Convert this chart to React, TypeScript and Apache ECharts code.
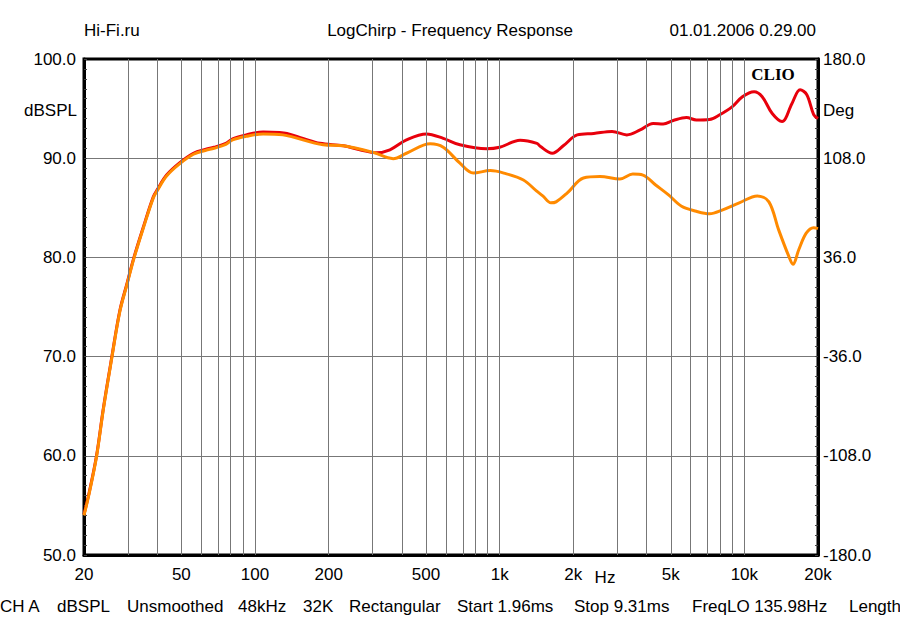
import React, { useEffect, useRef } from 'react';
import * as echarts from 'echarts';

// tick labels on the frequency axis
const xTickFreqs = [20, 50, 100, 200, 500, 1000, 2000, 5000, 10000, 20000];
const xTickLabels = ['20', '50', '100', '200', '500', '1k', '2k', '5k', '10k', '20k'];

// vertical grid lines (1-2-3...9 per decade)
const gridFreqs = [
  30, 40, 50, 60, 70, 80, 90, 100,
  200, 300, 400, 500, 600, 700, 800, 900, 1000,
  2000, 3000, 4000, 5000, 6000, 7000, 8000, 9000, 10000
];

// red curve
const redFreq = [
  20, 21, 22.5, 24, 26, 28, 30, 32, 35, 38.4, 40, 43.5, 49, 56, 63, 68, 76, 81, 92, 108,
  126, 135, 157, 184, 230, 268, 313, 356, 416, 502, 588, 688, 884, 1000, 1212, 1420,
  1464, 1640, 1830, 2075, 2425, 2880, 3310, 3750, 4240, 4660, 5120, 5800, 6360, 7200,
  7900, 8930, 9820, 10960, 11830, 13000, 14260, 15640, 16900, 18000, 19200, 20000
];
const redDb = [
  54.1, 56.3, 60.0, 64.8, 70.0, 74.6, 77.4, 80.0, 83.1, 86.1, 86.9, 88.3, 89.5, 90.5, 90.9, 91.1, 91.5, 91.95, 92.35, 92.65,
  92.6, 92.5, 92.0, 91.5, 91.25, 90.85, 90.55, 90.85, 91.85, 92.45, 92.0, 91.35, 90.95, 91.1, 91.8, 91.5,
  91.2, 90.5, 91.3, 92.35, 92.5, 92.7, 92.35, 92.85, 93.5, 93.45, 93.8, 94.1, 93.85, 93.9,
  94.35, 95.2, 96.2, 96.7, 96.2, 94.5, 93.7, 95.5, 96.9, 96.4, 94.4, 94.0
];

// orange curve
const orangeFreq = [
  20, 21, 22.5, 24, 26, 28, 30, 32, 35, 38.4, 40, 43.5, 49, 56, 63, 68, 76, 81, 92, 108,
  130, 190, 230, 303, 367, 416, 520, 588, 688, 780, 916, 1040, 1250, 1413, 1500, 1620,
  1700, 1890, 2200, 2570, 3100, 3500, 3850, 4340, 4900, 5540, 6360, 7200, 8160, 9530,
  11300, 12600, 13800, 15200, 15800, 16700, 17900, 19200, 20000
];
const orangeDb = [
  54.0, 56.2, 59.9, 64.7, 69.9, 74.5, 77.3, 79.9, 83.0, 86.0, 86.8, 88.2, 89.4, 90.4, 90.8, 91.0, 91.4, 91.85, 92.2, 92.45,
  92.35, 91.35, 91.25, 90.6, 89.95, 90.5, 91.45, 91.1, 89.5, 88.5, 88.75, 88.5, 87.8, 86.7, 86.2, 85.5,
  85.6, 86.5, 88.0, 88.15, 87.9, 88.4, 88.3, 87.3, 86.3, 85.15, 84.65, 84.4, 84.8, 85.5,
  86.2, 85.6, 82.8, 80.1, 79.3, 80.8, 82.45, 83.0, 82.9
];

const footerItems = [
  'CH A', 'dBSPL', 'Unsmoothed', '48kHz', '32K', 'Rectangular',
  'Start 1.96ms', 'Stop 9.31ms', 'FreqLO 135.98Hz', 'Length'
];
const footerX = [0, 57, 127, 238, 303, 349, 457, 574, 692, 849];

const FONT = '"Liberation Sans", Arial, sans-serif';
const lg = (f: number) => Math.log10(f);

const App = () => {
  const chartRef = useRef<HTMLDivElement>(null);

  useEffect(() => {
    const chart = echarts.init(chartRef.current!, null, { renderer: 'svg' });

    const labelFor = (v: number) => {
      let best = 0;
      xTickFreqs.forEach((f, i) => {
        if (Math.abs(lg(f) - v) < Math.abs(lg(xTickFreqs[best]) - v)) best = i;
      });
      return xTickLabels[best];
    };

    const textStyle = { fill: '#000', fontSize: 17, fontFamily: FONT };

    chart.setOption({
      animation: false,
      grid: {
        left: 84,
        right: 82,
        top: 59,
        bottom: 66,
        show: true,
        borderColor: '#000',
        borderWidth: 3
      },
      xAxis: {
        type: 'value',
        min: lg(20),
        max: lg(20000),
        axisLine: { show: true, onZero: false, lineStyle: { color: '#000', width: 3 } },
        axisTick: { show: false },
        splitLine: { show: false },
        axisLabel: {
          customValues: xTickFreqs.map(lg),
          formatter: (v: number) => labelFor(v),
          color: '#000',
          fontSize: 17,
          fontFamily: FONT,
          margin: 11,
          showMinLabel: true,
          showMaxLabel: true
        }
      },
      yAxis: [
        {
          type: 'value',
          min: 50,
          max: 100,
          interval: 10,
          position: 'left',
          axisLine: { show: true, lineStyle: { color: '#000', width: 3 } },
          axisTick: { show: true, inside: true, length: 3, lineStyle: { color: '#444' } },
          minorTick: { show: true, splitNumber: 10, length: 3, lineStyle: { color: '#444' } },
          splitLine: {
            show: true,
            showMinLine: false,
            showMaxLine: false,
            lineStyle: { color: '#777', width: 1 }
          },
          axisLabel: {
            formatter: (v: number) => v.toFixed(1),
            color: '#000',
            fontSize: 17,
            fontFamily: FONT,
            margin: 8
          }
        },
        {
          type: 'value',
          min: -180,
          max: 180,
          interval: 72,
          position: 'right',
          axisLine: { show: true, lineStyle: { color: '#000', width: 3 } },
          axisTick: { show: true, inside: true, length: 3, lineStyle: { color: '#444' } },
          minorTick: { show: true, splitNumber: 10, length: 3, lineStyle: { color: '#444' } },
          splitLine: { show: false },
          axisLabel: {
            formatter: (v: number) => v.toFixed(1),
            color: '#000',
            fontSize: 17,
            fontFamily: FONT,
            margin: 5
          }
        }
      ],
      series: [
        {
          type: 'line',
          data: [],
          z: 1,
          silent: true,
          markLine: {
            silent: true,
            symbol: 'none',
            label: { show: false },
            lineStyle: { color: '#777', width: 1, type: 'solid' },
            data: gridFreqs.map((f) => ({ xAxis: lg(f) }))
          }
        },
        {
          name: 'red',
          type: 'line',
          z: 3,
          smooth: 0.35,
          symbol: 'none',
          lineStyle: { color: '#e8000c', width: 3 },
          data: redFreq.map((f, i) => [lg(f), redDb[i]])
        },
        {
          name: 'orange',
          type: 'line',
          z: 4,
          smooth: 0.35,
          symbol: 'none',
          lineStyle: { color: '#ff8a00', width: 3 },
          data: orangeFreq.map((f, i) => [lg(f), orangeDb[i]])
        }
      ],
      graphic: [
        {
          type: 'text', x: 84, y: 30,
          style: { ...textStyle, text: 'Hi-Fi.ru', align: 'left', verticalAlign: 'middle' }
        },
        {
          type: 'text', x: 450, y: 30,
          style: { ...textStyle, text: 'LogChirp - Frequency Response', align: 'center', verticalAlign: 'middle' }
        },
        {
          type: 'text', x: 816, y: 30,
          style: { ...textStyle, text: '01.01.2006 0.29.00', align: 'right', verticalAlign: 'middle' }
        },
        {
          type: 'text', x: 77, y: 110,
          style: { ...textStyle, text: 'dBSPL', align: 'right', verticalAlign: 'middle' }
        },
        {
          type: 'text', x: 823, y: 110,
          style: { ...textStyle, text: 'Deg', align: 'left', verticalAlign: 'middle' }
        },
        {
          type: 'text', x: 605, y: 577,
          style: { ...textStyle, text: 'Hz', align: 'center', verticalAlign: 'middle' }
        },
        {
          type: 'text', x: 773, y: 74, z: 10,
          style: {
            fill: '#000', fontSize: 17, fontWeight: 'bold', fontFamily: '"Liberation Serif", "Times New Roman", serif',
            text: 'CLIO', align: 'center', verticalAlign: 'middle'
          }
        },
        ...footerItems.map((t, i) => ({
          type: 'text', x: footerX[i], y: 606,
          style: { ...textStyle, text: t, align: 'left', verticalAlign: 'middle' }
        }))
      ]
    });

    return () => {
      chart.dispose();
    };
  }, []);

  return (
    <div
      ref={chartRef}
      style={{ position: 'absolute', left: 0, top: 0, width: 900, height: 621, background: '#fff' }}
    />
  );
};

export default App;
